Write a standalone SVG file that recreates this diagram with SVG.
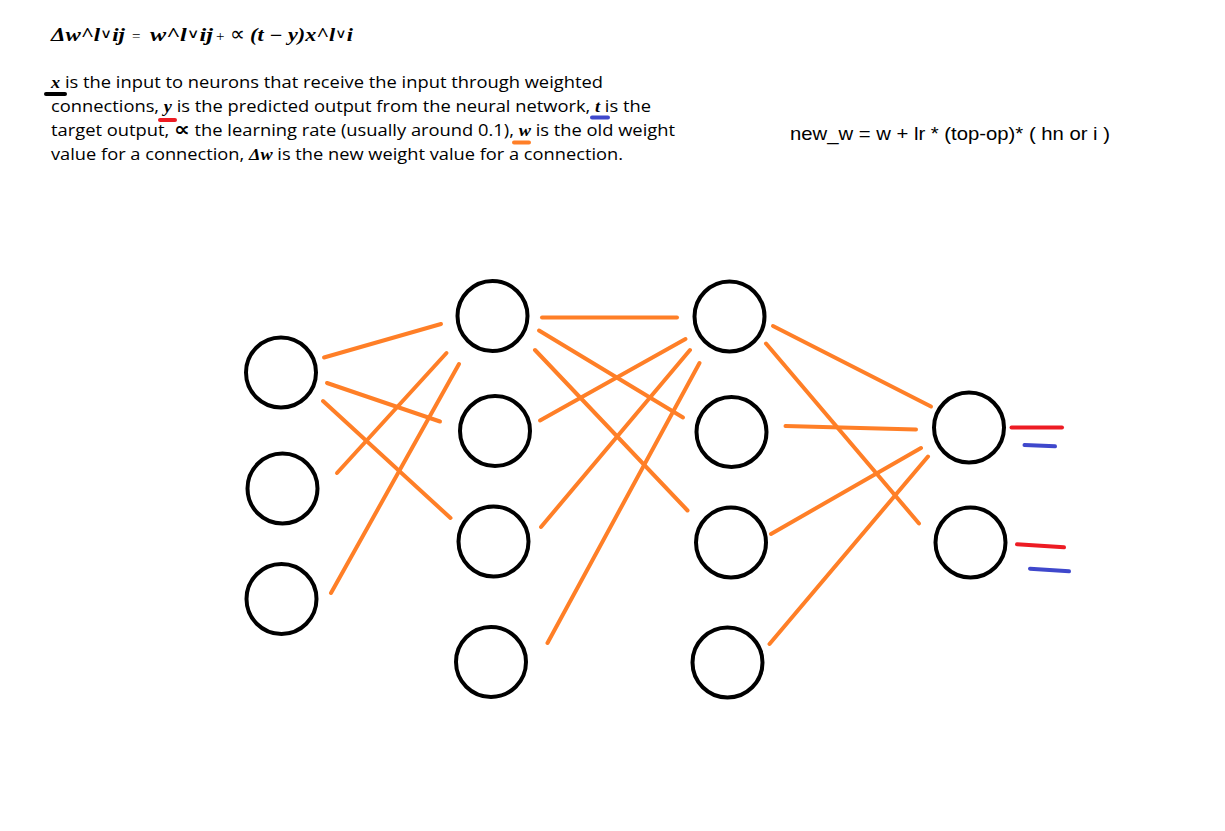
<svg xmlns="http://www.w3.org/2000/svg" width="1225" height="831" viewBox="0 0 1225 831">
<style>
  .node { fill: none; stroke: #000; stroke-width: 4; }
  .edge { stroke: #FF7F27; stroke-width: 4; stroke-linecap: round; fill: none; }
  .red { stroke: #ED1C24; stroke-width: 4; stroke-linecap: round; }
  .blue { stroke: #3F48CC; stroke-width: 4; stroke-linecap: round; }
  .para { font-family: "Open Sans", "Liberation Sans", sans-serif; font-size: 16.5px; fill: #000; }
  .m { font-family: "Liberation Serif", "DejaVu Serif", serif; font-weight: bold; font-style: italic; }
  .p { font-family: "DejaVu Sans", sans-serif; font-weight: bold; font-style: normal; font-size: 20px; }
  .f { font-family: "Liberation Serif", "DejaVu Serif", serif; font-weight: bold; font-style: italic; font-size: 18px; fill: #000; }
  .v { font-family: "DejaVu Sans", sans-serif; font-weight: normal; font-style: normal; font-size: 13px; }
  .fr { font-family: "Liberation Serif", "DejaVu Serif", serif; font-size: 15px; fill: #000; }
  .pr { font-family: "DejaVu Sans", sans-serif; font-size: 21px; fill: #000; }
  .code { font-family: "Liberation Sans", Arial, sans-serif; font-size: 19px; fill: #000; }
</style>
<rect width="1225" height="831" fill="#fff"/>

<g id="formula">
  <text class="f" x="51" y="41" textLength="74" lengthAdjust="spacingAndGlyphs">Δw^l<tspan class="v" dy="-3">∨</tspan><tspan dy="3">ij</tspan></text>
  <text class="fr" x="132" y="41">=</text>
  <text class="f" x="150" y="41" textLength="63" lengthAdjust="spacingAndGlyphs">w^l<tspan class="v" dy="-3">∨</tspan><tspan dy="3">ij</tspan></text>
  <text class="fr" x="216" y="41">+</text>
  <text class="pr" x="230" y="41">∝</text>
  <text class="f" x="250" y="41" textLength="103" lengthAdjust="spacingAndGlyphs">(t − y)x^l<tspan class="v" dy="-3">∨</tspan><tspan dy="3">i</tspan></text>
</g>

<g id="description">
  <text class="para" x="51" y="88" textLength="552" lengthAdjust="spacingAndGlyphs"><tspan class="m">x</tspan> is the input to neurons that receive the input through weighted</text>
  <text class="para" x="51" y="112" textLength="600" lengthAdjust="spacingAndGlyphs">connections, <tspan class="m">y</tspan> is the predicted output from the neural network, <tspan class="m">t</tspan> is the</text>
  <text class="para" x="51" y="136" textLength="624" lengthAdjust="spacingAndGlyphs">target output, <tspan class="p">∝</tspan> the learning rate (usually around 0.1), <tspan class="m">w</tspan> is the old weight</text>
  <text class="para" x="51" y="160" textLength="572" lengthAdjust="spacingAndGlyphs">value for a connection, <tspan class="m">Δw</tspan> is the new weight value for a connection.</text>
  <line x1="46" y1="94" x2="65" y2="94" stroke="#000" stroke-width="4" stroke-linecap="round"/>
  <line class="red" x1="160" y1="120" x2="175" y2="120"/>
  <line class="blue" x1="592" y1="117.5" x2="608" y2="117.5"/>
  <line x1="514" y1="142.5" x2="529" y2="142.5" stroke="#FF7F27" stroke-width="4" stroke-linecap="round"/>
</g>

<g id="rule">
  <text class="code" x="790" y="140" textLength="320" lengthAdjust="spacingAndGlyphs">new_w = w + lr * (top-op)* ( hn or i )</text>
</g>

<g id="connectors">
  <line class="edge" x1="324" y1="357.5" x2="441" y2="324"/>
  <line class="edge" x1="327" y1="383" x2="440" y2="421.5"/>
  <line class="edge" x1="323" y1="401" x2="450.5" y2="518"/>
  <line class="edge" x1="337" y1="473" x2="446.5" y2="353"/>
  <line class="edge" x1="331" y1="593" x2="459" y2="364"/>

  <line class="edge" x1="542" y1="317.5" x2="677" y2="317.5"/>
  <line class="edge" x1="539" y1="330.5" x2="683" y2="417.5"/>
  <line class="edge" x1="535" y1="350" x2="687.5" y2="510.5"/>
  <line class="edge" x1="540" y1="420.5" x2="685.5" y2="339"/>
  <line class="edge" x1="541" y1="527" x2="690" y2="350"/>
  <line class="edge" x1="547.5" y1="643" x2="699.5" y2="363"/>

  <line class="edge" x1="773" y1="326" x2="931" y2="406.5"/>
  <line class="edge" x1="766" y1="343.5" x2="919" y2="523.5"/>
  <line class="edge" x1="785.5" y1="426" x2="916" y2="429.5"/>
  <line class="edge" x1="771" y1="534" x2="921" y2="448"/>
  <line class="edge" x1="769.5" y1="644" x2="928" y2="456.5"/>

  <line class="red" x1="1011.5" y1="427.5" x2="1062" y2="427.5"/>
  <line class="blue" x1="1024.5" y1="445" x2="1055" y2="446.3"/>
  <line class="red" x1="1017" y1="544.3" x2="1064" y2="547.3"/>
  <line class="blue" x1="1030" y1="568.7" x2="1069" y2="571.3"/>
</g>

<g id="input1"><circle class="node" cx="281" cy="372.5" r="35"/></g>
<g id="input2"><circle class="node" cx="282.5" cy="488.5" r="35"/></g>
<g id="input3"><circle class="node" cx="281.5" cy="599" r="35"/></g>

<g id="hidden1-1"><circle class="node" cx="492.5" cy="316" r="35"/></g>
<g id="hidden1-2"><circle class="node" cx="495" cy="431" r="35"/></g>
<g id="hidden1-3"><circle class="node" cx="493.5" cy="541.5" r="35"/></g>
<g id="hidden1-4"><circle class="node" cx="491" cy="662" r="35"/></g>

<g id="hidden2-1"><circle class="node" cx="729.5" cy="316.5" r="35"/></g>
<g id="hidden2-2"><circle class="node" cx="731.5" cy="432" r="35"/></g>
<g id="hidden2-3"><circle class="node" cx="731" cy="542.5" r="35"/></g>
<g id="hidden2-4"><circle class="node" cx="727.5" cy="662.5" r="35"/></g>

<g id="output1"><circle class="node" cx="969" cy="427.5" r="35"/></g>
<g id="output2"><circle class="node" cx="970.5" cy="542.5" r="35"/></g>
</svg>
